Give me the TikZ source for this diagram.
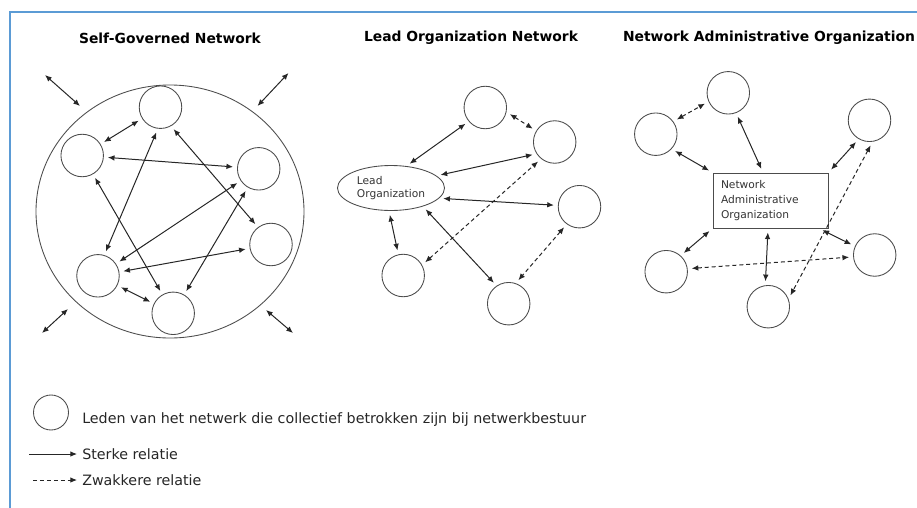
\documentclass[tikz,border=0pt]{standalone}
\usepackage{fontspec}
\setmainfont{DejaVu Sans}
\usetikzlibrary{arrows.meta,shapes.geometric}
\definecolor{frameblue}{HTML}{5B9BD5}
\newcommand\pxu{0.75pt}
\begin{document}
\begin{tikzpicture}[x=0.75pt,y=-0.75pt,
  member/.style={circle, draw=black!70, line width=0.65pt, minimum size=42.5*\pxu, inner sep=0pt},
  con/.style={draw=black!85, line width=0.75pt, {Latex[length=5pt,width=4.2pt]}-{Latex[length=5pt,width=4.2pt]}, shorten <=3pt, shorten >=3pt},
  weak/.style={con, dash pattern=on 3pt off 2.2pt},
  outer/.style={con, shorten <=0pt, shorten >=0pt},
  legstrong/.style={draw=black!85, line width=0.75pt, -{Latex[length=5pt,width=4.2pt]}},
  legweak/.style={legstrong, dash pattern=on 3pt off 2.2pt},
  title/.style={font=\fontsize{10.4pt}{12pt}\selectfont\bfseries, inner sep=0pt},
  body/.style={font=\fontsize{10.7pt}{13pt}\selectfont, anchor=west, inner sep=0pt, text=black!85},
  org/.style={draw=black!70, line width=0.65pt, inner sep=0pt, align=left, text=black!80}
]
\useasboundingbox (0,0) rectangle (917,507);
% frame
\draw[frameblue, line width=1.5pt] (10,508) -- (10,12) -- (918,12);

% titles
\node[title] (t1) at (170,38) {Self-Governed Network};
\node[title] (t2) at (471,38) {Lead Organization Network};
\node[title] (t3) at (769,38) {Network Administrative Organization};

% ---------- Self-governed network ----------
\node[ellipse, draw=black!70, line width=0.65pt, minimum width=268*\pxu, minimum height=253*\pxu, inner sep=0pt] (sgBig) at (170,211.5) {};
\node[member] (sgT)  at (160.5,107.2) {};
\node[member] (sgLU) at (82.2,155.5) {};
\node[member] (sgRU) at (258.7,168.8) {};
\node[member] (sgRL) at (271,244.5) {};
\node[member] (sgLL) at (98,275.8) {};
\node[member] (sgB)  at (173.2,313.3) {};

\draw[con] (sgT) -- (sgLU);
\draw[con] (sgLU) -- (sgRU);
\draw[con] (sgT.-61) -- (sgRL.127);
\draw[con] (sgT.-97) -- (sgLL.73);
\draw[con] (sgLU) -- (sgB);
\draw[con] (sgRU) -- (sgLL);
\draw[con] (sgRU) -- (sgB);
\draw[con] (sgRL) -- (sgLL);
\draw[con] (sgLL) -- (sgB);

\coordinate (o1a) at (45,75);   \coordinate (o1b) at (80,106);
\coordinate (o2a) at (288.5,73); \coordinate (o2b) at (257.5,106);
\coordinate (o3a) at (68,309);  \coordinate (o3b) at (42,333);
\coordinate (o4a) at (266,310); \coordinate (o4b) at (293,333);
\draw[outer] (o1a) -- (o1b);
\draw[outer] (o2a) -- (o2b);
\draw[outer] (o3a) -- (o3b);
\draw[outer] (o4a) -- (o4b);

% ---------- Lead organization network ----------
\node[org, ellipse, minimum width=107*\pxu, minimum height=45*\pxu, font=\fontsize{8pt}{10pt}\selectfont] (lo) at (391,188) {Lead\\Organization};
\node[member] (c1) at (485.3,107.5) {};
\node[member] (c2) at (554.7,142) {};
\node[member] (c3) at (579.5,206.7) {};
\node[member] (c4) at (403.2,275.5) {};
\node[member] (c5) at (508.7,303.7) {};

\draw[con] (lo.55) -- (c1.-140);
\draw[weak] (c1.-12) -- (c2.149);
\draw[con] (lo.15) -- (c2.-147);
\draw[con] (lo.-12) -- (c3);
\draw[weak] (c4.29) -- (c2.-129);
\draw[con] (lo.-95) -- (c4.103);
\draw[con] (lo.-30) -- (c5.124);
\draw[weak] (c3.-126) -- (c5.71);

% ---------- Network administrative organization ----------
\node[org, rectangle, minimum width=115*\pxu, minimum height=55*\pxu, text width=99*\pxu, font=\fontsize{8pt}{11.25pt}\selectfont] (nao) at (770.5,200.5) {Network\\Administrative\\Organization};
\node[member] (n1) at (728.3,92.8) {};
\node[member] (n2) at (655.8,134.2) {};
\node[member] (n3) at (869.5,120.3) {};
\node[member] (n4) at (874.7,255) {};
\node[member] (n5) at (666.2,271.7) {};
\node[member] (n6) at (768.3,306.7) {};

\draw[weak] (n2.36) -- (n1.-156);
\draw[con] (n1.-69) -- (nao.105);
\draw[con] (n2.-43) -- (nao.north west);
\draw[con] (n3.-120) -- (nao.north east);
\draw[weak] (n3.-82) -- (n6.21);
\draw[con] (nao.south west) -- (n5.48);
\draw[con] (nao.-95) -- (n6.98);
\draw[con] (nao.-30) -- (n4.156);
\draw[weak] (n5.8) -- (n4.-175);

% ---------- legend ----------
\node[member, minimum size=35*\pxu] (legm) at (51,412.5) {};
\node[body] (legt) at (82,420) {Leden van het netwerk die collectief betrokken zijn bij netwerkbestuur};
\coordinate (ls1) at (29,454); \coordinate (ls2) at (77,454);
\draw[legstrong] (ls1) -- (ls2);
\node[body] (lst) at (82,454) {Sterke relatie};
\coordinate (lw1) at (33,480); \coordinate (lw2) at (77,480);
\draw[legweak] (lw1) -- (lw2);
\node[body] (lwt) at (82,480) {Zwakkere relatie};
\end{tikzpicture}
\end{document}
